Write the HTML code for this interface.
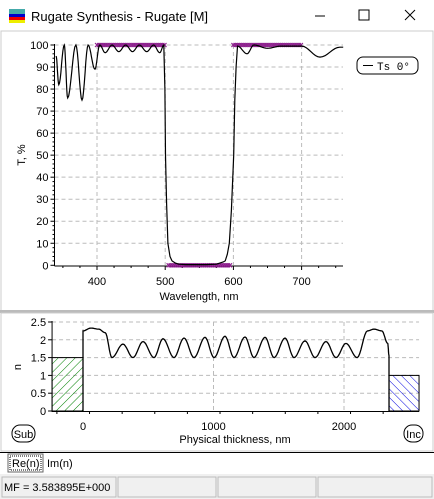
<!DOCTYPE html>
<html><head><meta charset="utf-8"><style>
html,body{margin:0;padding:0;background:#2e6f6f;}
#win{position:absolute;left:0;top:0;width:434px;height:499px;background:#fff;font-family:"Liberation Sans",sans-serif;overflow:hidden;}
svg text{font-family:"Liberation Sans",sans-serif;}
</style></head><body>
<div id="win">
<svg id="s" width="434" height="499" xmlns="http://www.w3.org/2000/svg">
<defs>
<pattern id="hg" width="6" height="6" patternUnits="userSpaceOnUse" patternTransform="rotate(45)"><line x1="0" y1="0" x2="0" y2="6" stroke="#008000" stroke-width="1"/></pattern>
<pattern id="hb" width="6" height="6" patternUnits="userSpaceOnUse" patternTransform="rotate(-45)"><line x1="0" y1="0" x2="0" y2="6" stroke="#0000e0" stroke-width="1"/></pattern>
</defs>
<g>
<rect x="0" y="0" width="434" height="31" fill="#fff"/>
<rect x="9" y="9" width="16" height="5" fill="#4aa"/><rect x="9" y="14" width="16" height="3" fill="#00c"/><rect x="9" y="17" width="16" height="3" fill="#e00"/><rect x="9" y="20" width="16" height="3" fill="#ee0"/>
<text x="31" y="21" font-size="13" fill="#000">Rugate Synthesis - Rugate [M]</text>
<line x1="315" y1="16" x2="325" y2="16" stroke="#000"/>
<rect x="359" y="10" width="10" height="10" fill="none" stroke="#000"/>
<path d="M405 10 L415 20 M415 10 L405 20" stroke="#000"/>
</g>
<rect x="1" y="31" width="432" height="280" fill="none" stroke="#ccc"/>
<rect x="0" y="310" width="434" height="3" fill="#bbb"/>
<rect x="1" y="313" width="432" height="138" fill="none" stroke="#ccc"/>
<g id="topChart"></g>
<g id="bot"></g>
<g>
<rect x="357" y="57" width="61" height="17" rx="6" fill="#fff" stroke="#000"/>
<line x1="363" y1="65.5" x2="373" y2="65.5" stroke="#000"/>
<text x="377" y="70" font-size="11" style="font-family:'Liberation Mono',monospace">Ts 0°</text>
</g>
<g><rect x="12" y="425" width="23" height="17" rx="8" fill="#fff" stroke="#000"/><text x="23.5" y="438" font-size="11" text-anchor="middle">Sub</text></g>
<g><rect x="404" y="425" width="19" height="17" rx="8" fill="#fff" stroke="#000"/><text x="413.5" y="438" font-size="11" text-anchor="middle">Inc</text></g>
<line x1="0" y1="452.5" x2="434" y2="452.5" stroke="#000"/>
<g><rect x="8" y="454" width="35" height="18" fill="#fff" stroke="#666"/><rect x="10" y="456" width="31" height="14" fill="none" stroke="#000" stroke-dasharray="1 1"/><text x="12" y="467" font-size="11">Re(n)</text></g>
<text x="47" y="467" font-size="11">Im(n)</text>
<rect x="0" y="474" width="434" height="25" fill="#f0f0f0"/>
<g>
<rect x="2" y="477" width="114" height="20" fill="#f0f0f0" stroke="#bbb"/>
<text x="4" y="491" font-size="11">MF = 3.583895E+000</text>
<rect x="118" y="477" width="98" height="20" fill="#f0f0f0" stroke="#bbb"/>
<rect x="218" y="477" width="98" height="20" fill="#f0f0f0" stroke="#bbb"/>
<rect x="318" y="477" width="114" height="20" fill="#f0f0f0" stroke="#bbb"/>
</g>
</svg>
</div>
<script>
const wl=[340,344,352,357,369,378,387,397,404,412,422,432,442,452,462,473,483,492,498,499.5,500.5,502,504,507,510,515,520,530,560,575,580,585,588,591,594,597,600.5,602,604,606,620,630,650,670,700,727,756,761];
const tVal=[95,82,100,76,100,75,100,89,100,96.5,100,97,100,97,100,97,100,96.5,100,80,50,28,10,4,2,1,0.5,0.3,0.3,0.5,1,1.5,2,5,10,25,50,75,90,99.5,96,100,98.5,99.5,99.5,94.5,99,99];
const xTicks=[400,500,600,700];
const yTicks=[0,10,20,30,40,50,60,70,80,90,100];
const tgtBands=[[400,500,100],[505,595,0],[600,700,100]];
const dPts=[0,60,120,170,222,306,383,460,544,613,697,774,851,935,1004,1088,1157,1241,1310,1395,1464,1548,1617,1701,1778,1862,1939,2015,2100,2180,2230,2290,2335,2345];
const nPts=[2.25,2.33,2.3,2.2,1.5,1.88,1.5,1.95,1.5,2.03,1.5,2.05,1.5,2.07,1.5,2.1,1.5,2.08,1.5,2.07,1.5,2.05,1.5,1.97,1.5,1.95,1.5,1.9,1.5,2.25,2.3,2.25,1.9,1.55];
const dTicks=[0,1000,2000];
const nTicks=[0,0.5,1,1.5,2,2.5];
const nSub=1.5, nInc=1.0, dLeft=-237, dRight=2575, dEnd=2345;
const NS="http://www.w3.org/2000/svg";
function mk(p,t,a){const e=document.createElementNS(NS,t);for(const k in a)e.setAttribute(k,a[k]);p.appendChild(e);return e;}
const gT=document.getElementById('topChart');
const X=l=>97+(l-400)*0.682, Y=t=>265.3-t*2.203;
const L=54.5,R=343;
for(const v of yTicks){const y=Y(v);if(v>0){const g=mk(gT,'line',{x1:L,x2:R,y1:y,y2:y,stroke:'#bbb','stroke-dasharray':'4 3'});}
mk(gT,'line',{x1:L-4,x2:L,y1:y,y2:y,stroke:'#000'});
const t=mk(gT,'text',{x:L-6,y:y+4,'font-size':11,'text-anchor':'end'});t.textContent=v;
if(v<100)for(let k=1;k<5;k++)mk(gT,'line',{x1:L-2,x2:L,y1:Y(v+k*2),y2:Y(v+k*2),stroke:'#000'});}
for(let l=350;l<=750;l+=25)mk(gT,'line',{x1:X(l),x2:X(l),y1:266,y2:l%100==0?270:268,stroke:'#000'});
for(const v of xTicks){const x=X(v);const g=mk(gT,'line',{x1:x,x2:x,y1:45,y2:265,stroke:'#bbb','stroke-dasharray':'4 3'});
const t=mk(gT,'text',{x:x,y:285,'font-size':11,'text-anchor':'middle'});t.textContent=v;}
mk(gT,'line',{x1:L,x2:L,y1:44,y2:266,stroke:'#000'});mk(gT,'line',{x1:L,x2:R,y1:266,y2:266,stroke:'#000'});
let t1=mk(gT,'text',{x:199,y:300,'font-size':11,'text-anchor':'middle'});t1.textContent='Wavelength, nm';
let t2=mk(gT,'text',{x:0,y:0,'font-size':11,'text-anchor':'middle',transform:'translate(25,155) rotate(-90)'});t2.textContent='T, %';
for(const b of tgtBands){const y=Y(b[2]);for(let l=b[0];l<=b[1];l+=3){const x=X(l);const c=mk(gT,'path',{d:`M${x-2} ${y-2}L${x+2} ${y+2}M${x+2} ${y-2}L${x-2} ${y+2}`,stroke:'#8a1a8a','stroke-width':1.1});}}
let d='M'+X(wl[0]).toFixed(1)+' '+Y(tVal[0]).toFixed(1);
for(let i=1;i<wl.length;i++){const smooth=(wl[i]<=498||wl[i-1]>=606);
if(smooth){for(let k=1;k<=8;k++){const f=(1-Math.cos(Math.PI*k/8))/2;const ll=wl[i-1]+(wl[i]-wl[i-1])*k/8;const tt=tVal[i-1]+(tVal[i]-tVal[i-1])*f;d+='L'+X(ll).toFixed(1)+' '+Y(tt).toFixed(1);}}
else d+='L'+X(wl[i]).toFixed(1)+' '+Y(tVal[i]).toFixed(1);}
const cv=mk(gT,'path',{d:d,fill:'none',stroke:'#000','stroke-width':1.2});
const bot=document.getElementById('bot');
const BX=v=>83+v*0.1305, BY=n=>411-n*35.6;
const BL=BX(dLeft),BR=BX(dRight);
for(const v of nTicks){const y=BY(v);if(v>0){const g=mk(bot,'line',{x1:BL,x2:BR,y1:y,y2:y,stroke:'#bbb','stroke-dasharray':'4 3'});}
mk(bot,'line',{x1:BL-4,x2:BL,y1:y,y2:y,stroke:'#000'});
const t=mk(bot,'text',{x:BL-6,y:y+4,'font-size':11,'text-anchor':'end'});t.textContent=v;}
for(let v=-200;v<=2500;v+=250)mk(bot,'line',{x1:BX(v),x2:BX(v),y1:412,y2:v%1000==0?416:414,stroke:'#000'});
for(const v of dTicks){const x=BX(v);mk(bot,'line',{x1:x,x2:x,y1:322,y2:411,stroke:'#bbb','stroke-dasharray':'4 3'});
const t=mk(bot,'text',{x:x,y:430,'font-size':11,'text-anchor':'middle'});t.textContent=v;}
let t3=mk(bot,'text',{x:235,y:443,'font-size':11,'text-anchor':'middle'});t3.textContent='Physical thickness, nm';
let t4=mk(bot,'text',{x:0,y:0,'font-size':11,'text-anchor':'middle',transform:'translate(21,367) rotate(-90)'});t4.textContent='n';
const sb=mk(bot,'rect',{x:BL,y:BY(nSub),width:BX(0)-BL,height:BY(0)-BY(nSub),fill:'url(#hg)',stroke:'#000'});
const ib=mk(bot,'rect',{x:BX(dEnd),y:BY(nInc),width:BR-BX(dEnd),height:BY(0)-BY(nInc),fill:'url(#hb)',stroke:'#000'});
mk(bot,'line',{x1:BL,x2:BL,y1:321,y2:412,stroke:'#000'});mk(bot,'line',{x1:BL,x2:BR,y1:411.5,y2:411.5,stroke:'#000'});
let p='M'+BX(0)+' '+BY(0);
for(let i=0;i<dPts.length;i++){if(i==0){p+='L'+BX(dPts[0])+' '+BY(nPts[0]);continue;}
for(let k=1;k<=8;k++){const f=(1-Math.cos(Math.PI*k/8))/2;const dd=dPts[i-1]+(dPts[i]-dPts[i-1])*k/8;const nn=nPts[i-1]+(nPts[i]-nPts[i-1])*f;p+='L'+BX(dd).toFixed(1)+' '+BY(nn).toFixed(1);}}
p+='L'+BX(dEnd)+' '+BY(0);
const np=mk(bot,'path',{d:p,fill:'none',stroke:'#000','stroke-width':1.3});
</script>
</body></html>
